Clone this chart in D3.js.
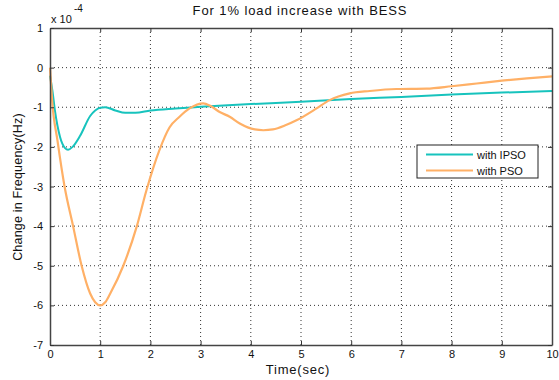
<!DOCTYPE html>
<html>
<head>
<meta charset="utf-8">
<script src="https://cdn.jsdelivr.net/npm/d3@7"></script>
<style>
  html, body { margin: 0; padding: 0; background: #fff; }
  svg { display: block; font-family: "Liberation Sans", Arial, sans-serif; }
  .grid line { stroke: #333; stroke-dasharray: 1 3; stroke-width: 1; }
  .axis text { font-size: 11px; fill: #111; }
</style>
</head>
<body>
<svg id="chart" width="559" height="380"></svg>
<script>
// Frequency deviation (x 1e-4 Hz) after a 1% load step, BESS in the loop
const timeIPSO = [0, 0.05, 0.1, 0.2, 0.3, 0.36, 0.45, 0.6, 0.8, 0.9, 1.0, 1.1, 1.3, 1.5, 1.7, 2.0, 2.5, 3, 4, 5, 6, 7, 8, 9, 10];
const freqIPSO = [-0.2, -0.6, -1.1, -1.75, -2.03, -2.07, -2.0, -1.72, -1.22, -1.08, -1.01, -1.0, -1.08, -1.14, -1.14, -1.08, -1.03, -0.99, -0.92, -0.86, -0.79, -0.74, -0.68, -0.63, -0.59];

const timePSO = [0, 0.04, 0.15, 0.29, 0.46, 0.63, 0.8, 0.9, 1.0, 1.1, 1.2, 1.46, 1.73, 1.92, 2.18, 2.38, 2.58, 2.78, 3.05, 3.2, 3.38, 3.58, 3.78, 4.08, 4.25, 4.44, 4.7, 4.91, 5.31, 5.57, 5.97, 6.37, 6.9, 7.5, 8, 8.5, 9, 9.5, 10];
const freqPSO = [0, -0.8, -1.85, -3.0, -4.0, -5.0, -5.7, -5.92, -6.0, -5.92, -5.7, -5.0, -4.0, -3.1, -2.08, -1.51, -1.24, -1.03, -0.9, -0.97, -1.12, -1.24, -1.41, -1.56, -1.58, -1.56, -1.45, -1.33, -1.03, -0.82, -0.65, -0.59, -0.54, -0.53, -0.47, -0.4, -0.33, -0.27, -0.22];

const xTicks = [0, 1, 2, 3, 4, 5, 6, 7, 8, 9, 10];
const yTicks = [1, 0, -1, -2, -3, -4, -5, -6, -7];
const seriesNames = ["with IPSO", "with PSO"];
const seriesColors = ["#17c3bd", "#ffb066"];

const svg = d3.select("#chart");
const plotL = 50, plotR = 552, plotT = 28, plotB = 345;

const x = d3.scaleLinear().domain([0, 10]).range([plotL, plotR]);
const y = d3.scaleLinear().domain([-7, 1]).range([plotB, plotT]);

// dotted grid
const grid = svg.append("g").attr("class", "grid");
grid.selectAll(".gx").data(xTicks.slice(1, -1)).enter().append("line")
  .attr("x1", d => x(d)).attr("x2", d => x(d)).attr("y1", plotT).attr("y2", plotB);
grid.selectAll(".gy").data(yTicks.slice(1, -1)).enter().append("line")
  .attr("y1", d => y(d)).attr("y2", d => y(d)).attr("x1", plotL).attr("x2", plotR);

// curves
const line = d3.line().x(d => x(d[0])).y(d => y(d[1])).curve(d3.curveMonotoneX);
const ipso = d3.zip(timeIPSO, freqIPSO);
const pso = d3.zip(timePSO, freqPSO);
svg.append("path").datum(ipso).attr("d", line)
  .attr("fill", "none").attr("stroke", seriesColors[0]).attr("stroke-width", 2);
svg.append("path").datum(pso).attr("d", line)
  .attr("fill", "none").attr("stroke", seriesColors[1]).attr("stroke-width", 2.2);

// axes with inward ticks on all four sides
const fmt = d3.format("d");
svg.append("g").attr("class", "axis").attr("transform", `translate(0,${plotB})`)
  .call(d3.axisBottom(x).tickValues(xTicks).tickFormat(fmt).tickSizeInner(-4).tickSizeOuter(0).tickPadding(5));
svg.append("g").attr("class", "axis").attr("transform", `translate(0,${plotT})`)
  .call(d3.axisTop(x).tickValues(xTicks).tickFormat("").tickSizeInner(-4).tickSizeOuter(0));
const axL = svg.append("g").attr("class", "axis").attr("transform", `translate(${plotL},0)`)
  .call(d3.axisLeft(y).tickValues(yTicks).tickFormat(fmt).tickSizeInner(-4).tickSizeOuter(0).tickPadding(7));
svg.append("g").attr("class", "axis").attr("transform", `translate(${plotR},0)`)
  .call(d3.axisRight(y).tickValues(yTicks).tickFormat("").tickSizeInner(-4).tickSizeOuter(0));
svg.selectAll(".axis .domain").attr("stroke", "#444").attr("stroke-width", 1.5);
svg.selectAll(".axis .tick line").attr("stroke", "#333");
axL.selectAll("text").text(d => d < 0 ? "-" + Math.abs(d) : d);

// exponent marker
svg.append("text").attr("x", 51).attr("y", 23).attr("font-size", 11).attr("fill", "#111").text("x 10");
svg.append("text").attr("x", 74).attr("y", 12).attr("font-size", 10).attr("fill", "#111").text("-4");

// title and axis labels
svg.append("text").attr("x", 300).attr("y", 15).attr("text-anchor", "middle")
  .attr("font-size", 13).attr("letter-spacing", 0.9).attr("fill", "#111").text("For 1% load increase with BESS");
svg.append("text").attr("x", 298).attr("y", 374).attr("text-anchor", "middle")
  .attr("font-size", 13).attr("letter-spacing", 0.8).attr("fill", "#111").text("Time(sec)");
svg.append("text").attr("transform", "translate(22,187) rotate(-90)").attr("text-anchor", "middle")
  .attr("font-size", 12.5).attr("letter-spacing", 0.2).attr("fill", "#111").text("Change in Frequency(Hz)");

// legend
const lg = svg.append("g");
lg.append("rect").attr("x", 417).attr("y", 145).attr("width", 121).attr("height", 33)
  .attr("fill", "#fff").attr("stroke", "#222").attr("stroke-width", 1);
seriesNames.forEach((name, i) => {
  const ly = 154.5 + i * 16;
  lg.append("line").attr("x1", 426).attr("x2", 473).attr("y1", ly).attr("y2", ly)
    .attr("stroke", seriesColors[i]).attr("stroke-width", 2);
  lg.append("text").attr("x", 477).attr("y", ly + 4).attr("font-size", 11).attr("fill", "#111").text(name);
});
</script>
</body>
</html>
